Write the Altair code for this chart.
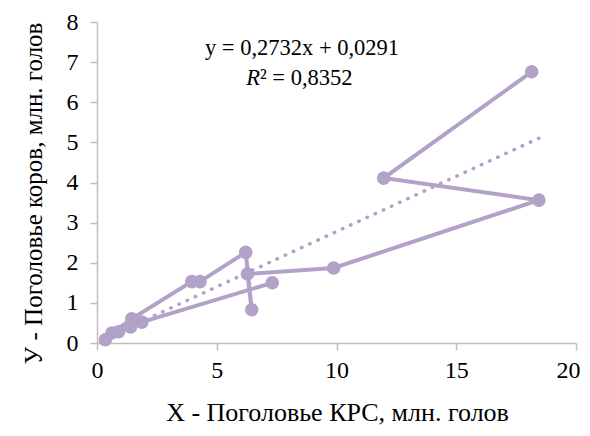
import altair as alt
import pandas as pd

# Data (connected in this order)
x_vals = [7.32, 1.87, 1.40, 0.90, 0.35, 0.62, 1.45, 3.96, 4.30, 6.21, 6.46, 6.28, 9.88, 18.45, 11.97, 18.15]
y_vals = [1.50, 0.52, 0.40, 0.28, 0.08, 0.25, 0.60, 1.53, 1.53, 2.26, 0.83, 1.72, 1.87, 3.56, 4.11, 6.76]
order_idx = list(range(len(x_vals)))

x_ticks = [0, 5, 10, 15, 20]
y_ticks = [0, 1, 2, 3, 4, 5, 6, 7, 8]

eq_text = "y = 0,2732x + 0,0291"
r2_text = "² = 0,8352"

COLOR = "#b3a2c7"
FONT = "Liberation Serif"

df = pd.DataFrame({"x": x_vals, "y": y_vals, "i": order_idx})
one = pd.DataFrame({"k": [0]})

xs = alt.Scale(domain=[0, 20], nice=False)
ys = alt.Scale(domain=[0, 8], nice=False)

xenc = alt.X("x:Q", scale=xs, axis=alt.Axis(
    values=x_ticks, title="X - Поголовье КРС, млн. голов", grid=False,
    labelFlush=False, labelPadding=8,
    labelOffset={"condition": {"test": "datum.value == 20", "value": -8}, "value": 0},
    titleX=240, titleY=69, titleBaseline="middle", titleFontSize=26))
yenc = alt.Y("y:Q", scale=ys, axis=alt.Axis(
    values=y_ticks, title="У - Поголовье коров, млн. голов", grid=False,
    labelPadding=12,
    titleX=-64, titleY=171, titleBaseline="middle", titleAlign="center"))

line = alt.Chart(df).mark_line(color=COLOR, strokeWidth=4).encode(
    x=xenc, y=yenc, order="i:Q")
pts = alt.Chart(df).mark_point(filled=True, opacity=1, color=COLOR, size=185, shape="circle").encode(
    x="x:Q", y="y:Q")
trend = alt.Chart(df).transform_regression("x", "y").mark_line(
    color=COLOR, strokeWidth=3.5, strokeDash=[0.5, 8.5], strokeCap="round").encode(
    x="x:Q", y="y:Q")

eq = alt.Chart(one).mark_text(text=eq_text, font=FONT, fontSize=22.5, color="black",
                              align="center", baseline="middle").encode(
    x=alt.value(205), y=alt.value(26))
r_it = alt.Chart(one).mark_text(text="R", font=FONT, fontSize=22.5, fontStyle="italic", color="black",
                                align="right", baseline="middle").encode(
    x=alt.value(163), y=alt.value(56))
r2 = alt.Chart(one).mark_text(text=r2_text, font=FONT, fontSize=22.5, color="black",
                              align="left", baseline="middle").encode(
    x=alt.value(163), y=alt.value(56))

chart = alt.layer(line, pts, trend, eq, r_it, r2).properties(
    width=479, height=321,
    autosize=alt.AutoSizeParams(type="none"),
    padding={"left": 97, "top": 22, "right": 14, "bottom": 93},
).configure_view(stroke=None).configure_axis(
    domainColor="#bfbfbf", domainWidth=1.5, tickColor="#bfbfbf", tickWidth=1.5, tickSize=7,
    labelFont=FONT, labelFontSize=24, labelColor="black",
    titleFont=FONT, titleFontSize=25, titleColor="black", titleFontWeight="normal",
)

chart.save("out.html", embed_options={"renderer": "svg", "actions": False})
